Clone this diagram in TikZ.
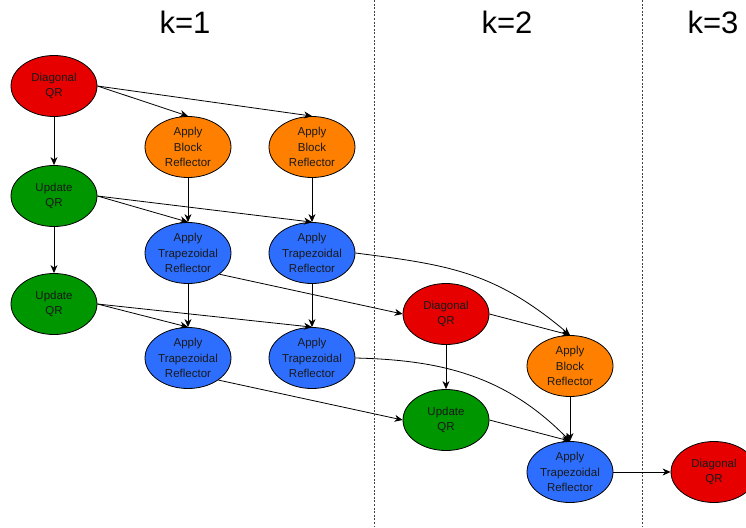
\documentclass[tikz,border=0pt]{standalone}
\usepackage{fontspec}
\setmainfont{Liberation Sans}
\usetikzlibrary{arrows.meta,shapes.geometric}
\definecolor{qrred}{RGB}{230,0,0}
\definecolor{qrorange}{RGB}{255,128,0}
\definecolor{qrgreen}{RGB}{0,150,0}
\definecolor{qrblue}{RGB}{45,110,255}
\begin{document}
\begin{tikzpicture}[x=1pt,y=-1pt,
  task/.style={ellipse,draw=black,line width=0.8pt,minimum width=86pt,minimum height=61pt,
    inner sep=0pt,align=center,text=black!90,font=\fontsize{11.5}{15.5}\selectfont},
  dqr/.style={task,fill=qrred},
  uqr/.style={task,fill=qrgreen},
  abr/.style={task,fill=qrorange},
  atr/.style={task,fill=qrblue},
  edge/.style={-{Stealth[length=8pt,width=7pt,inset=2.5pt]},line width=0.8pt},
  sepline/.style={dash pattern=on 2pt off 1.6pt,line width=0.7pt,draw=black!75},
  klabel/.style={font=\fontsize{31}{31}\selectfont,inner sep=0pt}]
\useasboundingbox (0,0) rectangle (746,527);
\fill[white] (0,0) rectangle (746,527);

% separators
\coordinate (s1t) at (374,0); \coordinate (s1b) at (374,527);
\coordinate (s2t) at (642,0); \coordinate (s2b) at (642,527);
\draw[sepline] (s1t) -- (s1b);
\draw[sepline] (s2t) -- (s2b);

% titles
\node[klabel] (k1) at (185,22) {k=1};
\node[klabel] (k2) at (507,22) {k=2};
\node[klabel] (k3) at (713,22) {k=3};

% k=1
\node[dqr] (dqr1) at (54,86) {Diagonal\\QR};
\node[uqr] (uqr1) at (54,196) {Update\\QR};
\node[uqr] (uqr2) at (54,304) {Update\\QR};
\node[abr] (abr1) at (188,147) {Apply\\Block\\Reflector};
\node[abr] (abr2) at (312,147) {Apply\\Block\\Reflector};
\node[atr] (atr11) at (188,253) {Apply\\Trapezoidal\\Reflector};
\node[atr] (atr12) at (312,253) {Apply\\Trapezoidal\\Reflector};
\node[atr] (atr21) at (188,358) {Apply\\Trapezoidal\\Reflector};
\node[atr] (atr22) at (312,358) {Apply\\Trapezoidal\\Reflector};

% k=2
\node[dqr] (dqr2) at (446,314) {Diagonal\\QR};
\node[uqr] (uqr3) at (446,420) {Update\\QR};
\node[abr] (abr3) at (570,366) {Apply\\Block\\Reflector};
\node[atr] (atr3) at (570,472) {Apply\\Trapezoidal\\Reflector};

% k=3
\node[dqr] (dqr3) at (714,472) {Diagonal\\QR};

% edges k=1
\draw[edge] (dqr1.south) -- (uqr1.north);
\draw[edge] (uqr1.south) -- (uqr2.north);
\draw[edge] (dqr1.east) -- (abr1.north);
\draw[edge] (dqr1.east) -- (abr2.north);
\draw[edge] (abr1.south) -- (atr11.north);
\draw[edge] (abr2.south) -- (atr12.north);
\draw[edge] (uqr1.east) -- (atr11.north);
\draw[edge] (uqr1.east) -- (atr12.north);
\draw[edge] (atr11.south) -- (atr21.north);
\draw[edge] (atr12.south) -- (atr22.north);
\draw[edge] (uqr2.east) -- (atr21.north);
\draw[edge] (uqr2.east) -- (atr22.north);

% edges to k=2
\draw[edge] (atr11.-34) -- (dqr2.west);
\draw[edge] (atr21.-36) -- (uqr3.west);
\draw[edge] (atr12.east) .. controls (450,265) and (495,272) .. (abr3.north);
\draw[edge] (atr22.east) .. controls (440,360) and (505,375) .. (atr3.north);
\draw[edge] (dqr2.south) -- (uqr3.north);
\draw[edge] (dqr2.east) -- (abr3.north);
\draw[edge] (uqr3.east) -- (atr3.north);
\draw[edge] (abr3.south) -- (atr3.north);

% to k=3
\draw[edge] (atr3.east) -- (dqr3.west);
\end{tikzpicture}
\end{document}
